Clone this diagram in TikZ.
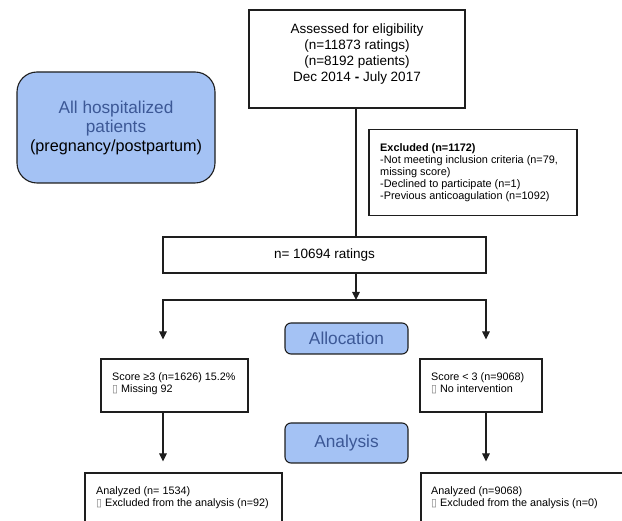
\documentclass[tikz,border=0pt]{standalone}
\usepackage{fontspec}
\setmainfont{Liberation Sans}
\newfontfamily\symfont{DejaVu Sans}
\usetikzlibrary{arrows.meta}
\definecolor{bfill}{RGB}{164,194,244}
\definecolor{btext}{RGB}{60,88,150}
\definecolor{ink}{RGB}{30,30,30}
\newcommand{\tofu}{\textcolor{gray}{\symfont ▯}}
\newcommand{\tightlines}{\lineskiplimit=-100pt\relax}
\tikzset{
  plainbox/.style={draw=ink, line width=1.1pt, inner sep=0pt},
  phasebox/.style={draw=ink, line width=1.1pt, fill=bfill, inner sep=0pt, text=btext, rounded corners=6pt, font=\fontsize{17.3}{20}\selectfont},
  bigtxt/.style={font=\fontsize{13.5}{16.3}\selectfont, align=center, inner sep=0pt},
  smalltxt/.style={align=left, inner sep=0pt, anchor=north west},
  link/.style={draw=ink, line width=1.1pt},
  arrowlink/.style={link, -{Triangle[length=8pt,width=7.5pt]}},
}
\begin{document}
\begin{tikzpicture}[x=1pt,y=-1pt]
\useasboundingbox (0,0) rectangle (622,521);
% top
\node[plainbox, minimum width=216pt, minimum height=98pt] (top) at (357,59) {};
\node[bigtxt] (toptext) at (357,54) {Assessed for eligibility\\(n=11873 ratings)\\(n=8192 patients)\\Dec 2014 \textbf{-} July 2017};
% population
\node[plainbox, fill=bfill, rounded corners=20pt, minimum width=198pt, minimum height=111pt, align=center, font=\fontsize{17.2}{19}\selectfont] (pop) at (116,127.5) {\textcolor{btext}{All hospitalized}\\\textcolor{btext}{patients}\\{\fontsize{16.2}{19}\selectfont(pregnancy/postpartum)}};
% excluded
\node[plainbox, minimum width=208pt, minimum height=86pt] (excl) at (473,172.5) {};
\node[smalltxt, font=\fontsize{10.9}{12}\selectfont\tightlines] (excltext) at (380,143) {\textbf{Excluded (n=1172)}\\-Not meeting inclusion criteria (n=79,\\missing score)\\-Declined to participate (n=1)\\-Previous anticoagulation (n=1092)};
% n box
\node[plainbox, minimum width=323pt, minimum height=36pt, font=\fontsize{13.5}{16}\selectfont] (nbox) at (324.5,255) {n= 10694 ratings};
% phases
\node[phasebox, minimum width=123pt, minimum height=31pt] (alloc) at (346.5,338.5) {Allocation};
\node[phasebox, minimum width=123pt, minimum height=40pt] (anal) at (346.5,443) {Analysis};
% score boxes
\node[plainbox, minimum width=147pt, minimum height=53pt] (scoreL) at (174.5,385.5) {};
\node[smalltxt, font=\fontsize{10.8}{12}\selectfont\tightlines] (scoreLtext) at (112,372) {Score ≥3 (n=1626) 15.2\%\\\tofu{} Missing 92};
\node[plainbox, minimum width=122pt, minimum height=53pt] (scoreR) at (481,385.5) {};
\node[smalltxt, font=\fontsize{10.8}{12}\selectfont\tightlines] (scoreRtext) at (431,372) {Score < 3 (n=9068)\\\tofu{} No intervention};
% analyzed boxes
\node[plainbox, minimum width=197pt, minimum height=72pt] (anL) at (183.5,509) {};
\node[smalltxt, font=\fontsize{10.8}{12.5}\selectfont\tightlines] (anLtext) at (96,486) {Analyzed (n= 1534)\\\tofu{} Excluded from the analysis (n=92)};
\node[plainbox, minimum width=229pt, minimum height=72pt] (anR) at (535.5,509) {};
\node[smalltxt, font=\fontsize{10.8}{12.5}\selectfont\tightlines] (anRtext) at (431,486) {Analyzed (n=9068)\\\tofu{} Excluded from the analysis (n=0)};
% connectors
\coordinate (spine) at (356,0);
\coordinate (forkL) at (163,300);
\coordinate (forkR) at (486,300);
\draw[link] (top.south -| spine) -- (nbox.north -| spine);
\draw[arrowlink] (nbox.south -| spine) -- (forkL -| spine);
\draw[link, line cap=rect] (forkL) -- (forkR);
\draw[arrowlink, shorten >=19pt] (forkL) -- (scoreL.north -| forkL);
\draw[arrowlink, shorten >=19pt] (forkR) -- (scoreR.north -| forkR);
\draw[arrowlink, shorten >=11pt] (scoreL.south -| forkL) -- (anL.north -| forkL);
\draw[arrowlink, shorten >=11pt] (scoreR.south -| forkR) -- (anR.north -| forkR);
\end{tikzpicture}
\end{document}
